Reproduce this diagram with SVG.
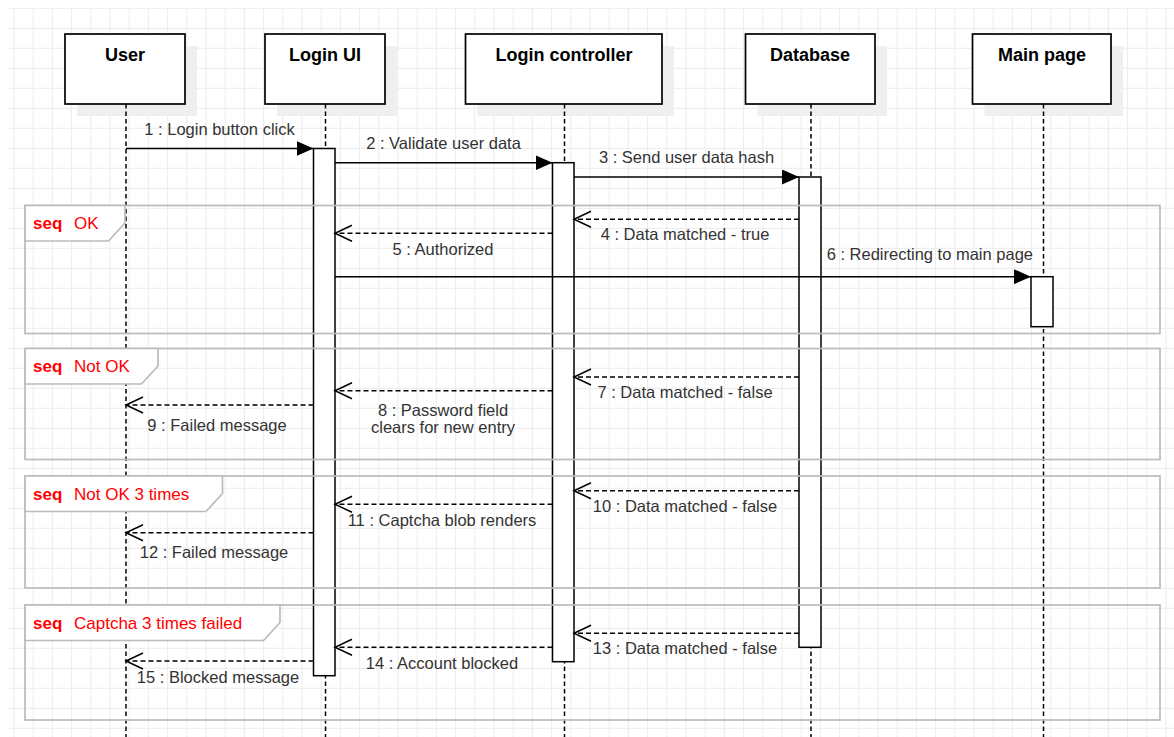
<svg xmlns="http://www.w3.org/2000/svg" width="1174" height="737" viewBox="0 0 1174 737">
<style>
.hdr{font-family:"Liberation Sans",Arial,sans-serif;font-weight:bold;font-size:18px;fill:#000;text-anchor:middle}
.lbl{font-family:"Liberation Sans",Arial,sans-serif;font-size:16.5px;fill:#333;text-anchor:middle}
.box{fill:#fff;stroke:#000;stroke-width:1.7}
.shadow{fill:#efefef}
.life{stroke:#000;stroke-width:1.5;stroke-dasharray:4.5 3;fill:none}
.bar{fill:#fff;stroke:#000;stroke-width:1.5}
.msg{stroke:#000;stroke-width:1.5;fill:none}
.sync{marker-end:url(#solid)}
.ret{stroke-dasharray:5 3;marker-end:url(#open)}
.frame{fill:none;stroke:#bbb;stroke-width:1.7}
.tab{fill:#fff;stroke:#bbb;stroke-width:1.7}
.ft{font-family:"Liberation Sans",Arial,sans-serif;font-size:17px;fill:#f00}
.ft .k{font-weight:bold}
</style>
<defs>
<pattern id="gridp" x="13.5" y="7.8" width="19.2" height="20" patternUnits="userSpaceOnUse">
<path d="M0 0.5H19.2M0.5 0V20" stroke="#ebebeb" stroke-width="1" fill="none"/>
</pattern>
<marker id="solid" viewBox="0 0 17 15" refX="17" refY="7.5" markerWidth="17" markerHeight="15" markerUnits="userSpaceOnUse" orient="auto">
<path d="M0 0L17 7.5L0 15Z" fill="#000"/>
</marker>
<marker id="open" viewBox="0 0 17 16" refX="17" refY="8" markerWidth="17" markerHeight="16" markerUnits="userSpaceOnUse" orient="auto" style="overflow:visible">
<path d="M0 0L17 8L0 16" fill="none" stroke="#000" stroke-width="1.5"/>
</marker>
</defs>
<rect x="0" y="0" width="1174" height="737" fill="#fff"/>
<rect id="grid" x="7" y="8" width="1167" height="729" fill="url(#gridp)"/>

<g id="user">
<rect class="shadow" x="77" y="46" width="120" height="70"/>
<rect class="box" x="65" y="34" width="120" height="70"/>
<text class="hdr" x="125" y="61">User</text>
<line class="life" x1="126" y1="104" x2="126" y2="737"/>
</g>
<g id="login-ui">
<rect class="shadow" x="277" y="46" width="120" height="70"/>
<rect class="box" x="265" y="34" width="120" height="70"/>
<text class="hdr" x="325" y="61">Login UI</text>
<line class="life" x1="325.5" y1="104" x2="325.5" y2="737"/>
<rect class="bar" x="313.5" y="148.5" width="21.5" height="527.2"/>
</g>
<g id="login-controller">
<rect class="shadow" x="477.5" y="46" width="196.5" height="70"/>
<rect class="box" x="465.5" y="34" width="196.5" height="70"/>
<text class="hdr" x="564" y="61">Login controller</text>
<line class="life" x1="564.5" y1="104" x2="564.5" y2="737"/>
<rect class="bar" x="552.5" y="162.7" width="21.5" height="499"/>
</g>
<g id="database">
<rect class="shadow" x="757.5" y="46" width="129.5" height="70"/>
<rect class="box" x="745.5" y="34" width="129.5" height="70"/>
<text class="hdr" x="810" y="61">Database</text>
<line class="life" x1="811" y1="104" x2="811" y2="737"/>
<rect class="bar" x="799" y="177" width="22" height="470.3"/>
</g>
<g id="main-page">
<rect class="shadow" x="984.5" y="46" width="138.5" height="70"/>
<rect class="box" x="972.5" y="34" width="138.5" height="70"/>
<text class="hdr" x="1042" y="61">Main page</text>
<line class="life" x1="1043.5" y1="104" x2="1043.5" y2="737"/>
<rect class="bar" x="1031" y="276.7" width="22" height="50"/>
</g>

<g id="connectors">
<line class="msg sync" x1="126" y1="148.5" x2="313.5" y2="148.5"/>
<text class="lbl" x="219.5" y="134.5">1 : Login button click</text>
<line class="msg sync" x1="335" y1="162.7" x2="552.5" y2="162.7"/>
<text class="lbl" x="443.5" y="149">2 : Validate user data</text>
<line class="msg sync" x1="574" y1="177" x2="799" y2="177"/>
<text class="lbl" x="686.5" y="163">3 : Send user data hash</text>
<line class="msg ret" x1="799" y1="219.3" x2="574" y2="219.3"/>
<text class="lbl" x="685" y="240">4 : Data matched - true</text>
<line class="msg ret" x1="552.5" y1="233.3" x2="335" y2="233.3"/>
<text class="lbl" x="443" y="254.5">5 : Authorized</text>
<line class="msg sync" x1="335" y1="276.7" x2="1031" y2="276.7"/>
<text class="lbl" x="1033" y="260" style="text-anchor:end">6 : Redirecting to main page</text>
<line class="msg ret" x1="799" y1="377" x2="574" y2="377"/>
<text class="lbl" x="685" y="398">7 : Data matched - false</text>
<line class="msg ret" x1="552.5" y1="390.7" x2="335" y2="390.7"/>
<text class="lbl" x="443" y="416">8 : Password field</text>
<text class="lbl" x="443" y="433.3">clears for new entry</text>
<line class="msg ret" x1="313.5" y1="405" x2="126" y2="405"/>
<text class="lbl" x="217" y="430.5">9 : Failed message</text>
<line class="msg ret" x1="799" y1="490.7" x2="574" y2="490.7"/>
<text class="lbl" x="685" y="511.7">10 : Data matched - false</text>
<line class="msg ret" x1="552.5" y1="504.3" x2="335" y2="504.3"/>
<text class="lbl" x="442" y="525.7">11 : Captcha blob renders</text>
<line class="msg ret" x1="313.5" y1="532.7" x2="126" y2="532.7"/>
<text class="lbl" x="214" y="558.3">12 : Failed message</text>
<line class="msg ret" x1="799" y1="633.3" x2="574" y2="633.3"/>
<text class="lbl" x="685" y="654">13 : Data matched - false</text>
<line class="msg ret" x1="552.5" y1="647.3" x2="335" y2="647.3"/>
<text class="lbl" x="442" y="669">14 : Account blocked</text>
<line class="msg ret" x1="313.5" y1="661" x2="126" y2="661"/>
<text class="lbl" x="218" y="682.7">15 : Blocked message</text>
</g>

<g id="frame-ok">
<rect class="frame" x="25" y="205.5" width="1135" height="128"/>
<path class="tab" d="M25 205.5H125V223L108.5 241H25Z"/>
<text class="ft" x="33" y="229"><tspan class="k">seq</tspan><tspan x="74">OK</tspan></text>
</g>
<g id="frame-not-ok">
<rect class="frame" x="25" y="348.5" width="1135" height="111"/>
<path class="tab" d="M25 348.5H158V366L141.5 384H25Z"/>
<text class="ft" x="33" y="372"><tspan class="k">seq</tspan><tspan x="74">Not OK</tspan></text>
</g>
<g id="frame-not-ok-3">
<rect class="frame" x="25" y="476" width="1135" height="112"/>
<path class="tab" d="M25 476H222.5V493.5L206 511.5H25Z"/>
<text class="ft" x="33" y="499.5"><tspan class="k">seq</tspan><tspan x="74">Not OK 3 times</tspan></text>
</g>
<g id="frame-captcha">
<rect class="frame" x="25" y="605" width="1135" height="115"/>
<path class="tab" d="M25 605H280V622.5L263.5 640.5H25Z"/>
<text class="ft" x="33" y="628.5"><tspan class="k">seq</tspan><tspan x="74">Captcha 3 times failed</tspan></text>
</g>
</svg>
